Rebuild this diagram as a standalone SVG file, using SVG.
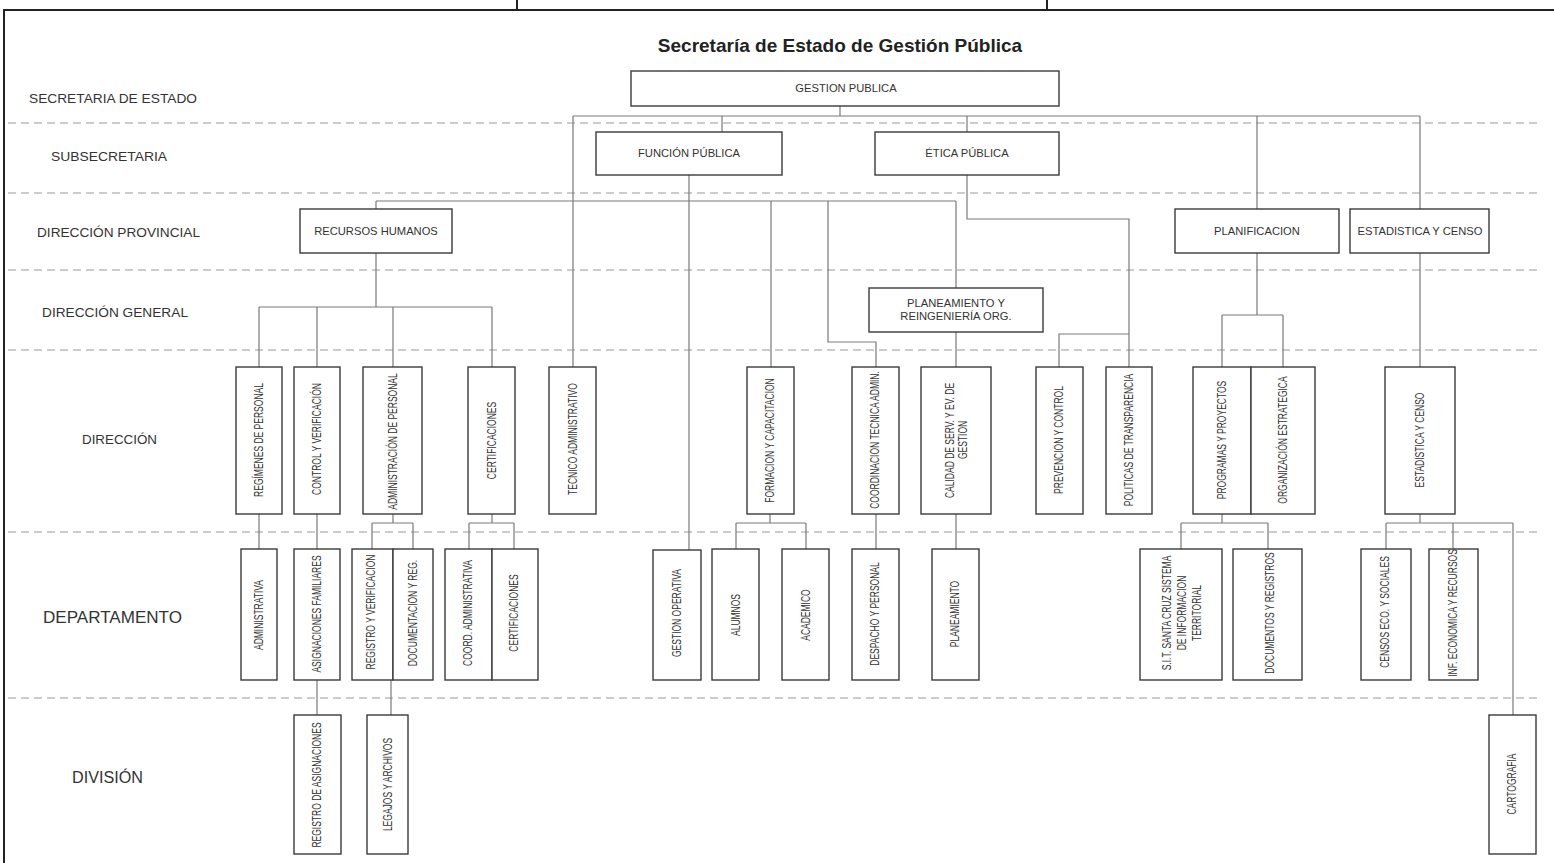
<svg xmlns="http://www.w3.org/2000/svg" width="1554" height="863" viewBox="0 0 1554 863">
<style>
.frame{fill:none;stroke:#222;stroke-width:2}
.band{fill:none;stroke:#9a9a9a;stroke-width:1.2;stroke-dasharray:8,5}
.box{fill:#fff;stroke:#3a3a3a;stroke-width:1.4}
.con{fill:none;stroke:#7a7a7a;stroke-width:1.2}
.title{font-family:"Liberation Sans",Arial,sans-serif;font-weight:bold;font-size:19px;fill:#222;text-anchor:middle}
.row{font-family:"Liberation Sans",Arial,sans-serif;font-size:13.5px;fill:#333}
.rowb{font-family:"Liberation Sans",Arial,sans-serif;font-size:16.3px;fill:#333}
.h{font-family:"Liberation Sans",Arial,sans-serif;font-size:11.2px;fill:#333;text-anchor:middle}
.v{font-family:"Liberation Sans",Arial,sans-serif;font-size:12px;fill:#333;text-anchor:middle}
</style>
<rect width="1554" height="863" fill="#fff"/>
<g id="frame">
<path class="frame" d="M3,10 H1554 M4,10 V863 M517,0 V10 M1047,0 V10"/>
</g>
<g id="bands">
<path class="band" d="M8,123 H1538 M8,193 H1538 M8,270 H1538 M8,350 H1538 M8,532 H1538 M8,698 H1538"/>
</g>
<g id="row-labels">
<text class="row" x="29" y="103" textLength="168" lengthAdjust="spacingAndGlyphs">SECRETARIA DE ESTADO</text>
<text class="row" x="51" y="161" textLength="116" lengthAdjust="spacingAndGlyphs">SUBSECRETARIA</text>
<text class="row" x="37" y="237" textLength="163" lengthAdjust="spacingAndGlyphs">DIRECCIÓN PROVINCIAL</text>
<text class="row" x="42" y="317" textLength="146" lengthAdjust="spacingAndGlyphs">DIRECCIÓN GENERAL</text>
<text class="row" x="82" y="444" textLength="75" lengthAdjust="spacingAndGlyphs">DIRECCIÓN</text>
<text class="rowb" x="43" y="623" textLength="139" lengthAdjust="spacingAndGlyphs">DEPARTAMENTO</text>
<text class="rowb" x="72" y="783" textLength="71" lengthAdjust="spacingAndGlyphs">DIVISIÓN</text>
</g>
<text class="title" x="840" y="52">Secretaría de Estado de Gestión Pública</text>
<g id="connectors">
<path class="con" d="M840,106 V116 M573,116 H1420 M722,116 V132 M967,116 V132 M573,116 V367 M1257,116 V209 M1420,116 V209"/>
<path class="con" d="M689,175 V550 M376,201 H956 M376,201 V209 M771,201 V367 M828,201 V342 H876 V367 M956,201 V288"/>
<path class="con" d="M967,175 V219 H1129 V367 M1129,334 H1059 V367 M956,332 V367"/>
<path class="con" d="M376,253 V307 M259,307 H492 M259,307 V367 M317,307 V367 M393,307 V367 M492,307 V367"/>
<path class="con" d="M259,514 V549 M317,514 V549 M393,514 V523 M372,523 H413 M372,523 V549 M413,523 V549 M391,680 V715 M317,680 V715"/>
<path class="con" d="M492,514 V523 M469,523 H514 M469,523 V549 M514,523 V549"/>
<path class="con" d="M770,514 V523 M736,523 H806 M736,523 V549 M806,523 V549 M876,514 V549 M956,514 V549"/>
<path class="con" d="M1257,253 V315 M1222,315 H1283 M1222,315 V367 M1283,315 V367"/>
<path class="con" d="M1222,514 V523 M1181,523 H1268 M1181,523 V549 M1268,523 V549"/>
<path class="con" d="M1420,253 V367 M1420,514 V523 M1386,523 H1513 M1386,523 V549 M1453,523 V549 M1513,523 V715"/>
</g>
<g id="gestion-publica"><rect class="box" x="631" y="71" width="428" height="35"/><text class="h" x="846" y="92">GESTION PUBLICA</text></g>
<g id="funcion-publica"><rect class="box" x="596" y="132" width="186" height="43"/><text class="h" x="689" y="157">FUNCIÓN PÚBLICA</text></g>
<g id="etica-publica"><rect class="box" x="875" y="132" width="184" height="43"/><text class="h" x="967" y="157">ÉTICA PÚBLICA</text></g>
<g id="recursos-humanos"><rect class="box" x="300" y="209" width="152" height="44"/><text class="h" x="376" y="235">RECURSOS HUMANOS</text></g>
<g id="planificacion"><rect class="box" x="1175" y="209" width="164" height="44"/><text class="h" x="1257" y="235">PLANIFICACION</text></g>
<g id="estadistica-censo-prov"><rect class="box" x="1350" y="209" width="139" height="44"/><text class="h" x="1420" y="235">ESTADISTICA Y CENSO</text></g>
<g id="planeamiento-reingenieria"><rect class="box" x="869" y="288" width="174" height="44"/><text class="h" x="956" y="307">PLANEAMIENTO Y</text><text class="h" x="956" y="320">REINGENIERÍA ORG.</text></g>

<g id="regimenes-personal"><rect class="box" x="236" y="367" width="46" height="147"/><text class="v" transform="translate(263.3,440) rotate(-90) scale(0.709,1)">REGÍMENES DE PERSONAL</text></g>
<g id="control-verificacion"><rect class="box" x="294" y="367" width="46" height="147"/><text class="v" transform="translate(321.3,439) rotate(-90) scale(0.709,1)">CONTROL Y VERIFICACIÓN</text></g>
<g id="administracion-personal"><rect class="box" x="363" y="367" width="59" height="147"/><text class="v" transform="translate(397.3,441.5) rotate(-90) scale(0.709,1)">ADMINISTRACIÓN DE PERSONAL</text></g>
<g id="certificaciones-dir"><rect class="box" x="468" y="367" width="47" height="147"/><text class="v" transform="translate(496.3,440.5) rotate(-90) scale(0.709,1)">CERTIFICACIONES</text></g>
<g id="tecnico-administrativo"><rect class="box" x="549" y="367" width="47" height="147"/><text class="v" transform="translate(577.3,439) rotate(-90) scale(0.709,1)">TECNICO ADMINISTRATIVO</text></g>
<g id="formacion-capacitacion"><rect class="box" x="747" y="367" width="47" height="147"/><text class="v" transform="translate(774.3,440.5) rotate(-90) scale(0.709,1)">FORMACION Y CAPACITACION</text></g>
<g id="coordinacion-tecnica"><rect class="box" x="852" y="367" width="47" height="147"/><text class="v" transform="translate(879.3,440) rotate(-90) scale(0.709,1)">COORDINACION TECNICA ADMIN.</text></g>
<g id="calidad-servicio"><rect class="box" x="921" y="367" width="70" height="147"/><text class="v" transform="translate(954.3,440.5) rotate(-90) scale(0.709,1)">CALIDAD DE SERV. Y EV. DE</text><text class="v" transform="translate(967.3,440) rotate(-90) scale(0.709,1)">GESTION</text></g>
<g id="prevencion-control"><rect class="box" x="1036" y="367" width="47" height="147"/><text class="v" transform="translate(1063.3,440) rotate(-90) scale(0.709,1)">PREVENCION Y CONTROL</text></g>
<g id="politicas-transparencia"><rect class="box" x="1106" y="367" width="46" height="147"/><text class="v" transform="translate(1133.3,440) rotate(-90) scale(0.709,1)">POLITICAS DE TRANSPARENCIA</text></g>
<g id="programas-proyectos"><rect class="box" x="1193" y="367" width="58" height="147"/><text class="v" transform="translate(1226.3,440) rotate(-90) scale(0.709,1)">PROGRAMAS Y PROYECTOS</text></g>
<g id="organizacion-estrategica"><rect class="box" x="1251" y="367" width="64" height="147"/><text class="v" transform="translate(1287.3,440) rotate(-90) scale(0.709,1)">ORGANIZACIÓN ESTRATEGICA</text></g>
<g id="estadistica-censo-dir"><rect class="box" x="1385" y="367" width="70" height="147"/><text class="v" transform="translate(1424.3,440) rotate(-90) scale(0.709,1)">ESTADISTICA Y CENSO</text></g>

<g id="administrativa"><rect class="box" x="241" y="549" width="36" height="131"/><text class="v" transform="translate(263.3,615) rotate(-90) scale(0.709,1)">ADMINISTRATIVA</text></g>
<g id="asignaciones-familiares"><rect class="box" x="294" y="549" width="46" height="131"/><text class="v" transform="translate(321.3,614) rotate(-90) scale(0.709,1)">ASIGNACIONES FAMILIARES</text></g>
<g id="registro-verificacion"><rect class="box" x="352" y="549" width="41" height="131"/><text class="v" transform="translate(375.3,612) rotate(-90) scale(0.709,1)">REGISTRO Y VERIFICACION</text></g>
<g id="documentacion-reg"><rect class="box" x="393" y="549" width="40" height="131"/><text class="v" transform="translate(417.3,613) rotate(-90) scale(0.709,1)">DOCUMENTACION Y REG.</text></g>
<g id="coord-administrativa"><rect class="box" x="445" y="549" width="47" height="131"/><text class="v" transform="translate(472.3,613) rotate(-90) scale(0.709,1)">COORD. ADMINISTRATIVA</text></g>
<g id="certificaciones-dep"><rect class="box" x="492" y="549" width="46" height="131"/><text class="v" transform="translate(518.3,613) rotate(-90) scale(0.709,1)">CERTIFICACIONES</text></g>
<g id="gestion-operativa"><rect class="box" x="653" y="550" width="48" height="130"/><text class="v" transform="translate(681.3,613) rotate(-90) scale(0.709,1)">GESTION OPERATIVA</text></g>
<g id="alumnos"><rect class="box" x="712" y="549" width="47" height="131"/><text class="v" transform="translate(740.3,615) rotate(-90) scale(0.709,1)">ALUMNOS</text></g>
<g id="academico"><rect class="box" x="782" y="549" width="47" height="131"/><text class="v" transform="translate(810.3,615) rotate(-90) scale(0.709,1)">ACADEMICO</text></g>
<g id="despacho-personal"><rect class="box" x="852" y="549" width="47" height="131"/><text class="v" transform="translate(879.3,614) rotate(-90) scale(0.709,1)">DESPACHO Y PERSONAL</text></g>
<g id="planeamiento"><rect class="box" x="932" y="549" width="47" height="131"/><text class="v" transform="translate(959.3,614) rotate(-90) scale(0.709,1)">PLANEAMIENTO</text></g>
<g id="sit-santa-cruz"><rect class="box" x="1140" y="549" width="82" height="131"/><text class="v" transform="translate(1171.3,613) rotate(-90) scale(0.709,1)">S.I.T. SANTA CRUZ SISTEMA</text><text class="v" transform="translate(1186.3,613) rotate(-90) scale(0.709,1)">DE INFORMACION</text><text class="v" transform="translate(1201.3,613) rotate(-90) scale(0.709,1)">TERRITORIAL</text></g>
<g id="documentos-registros"><rect class="box" x="1233" y="549" width="69" height="131"/><text class="v" transform="translate(1274.3,613) rotate(-90) scale(0.709,1)">DOCUMENTOS Y REGISTROS</text></g>
<g id="censos"><rect class="box" x="1361" y="549" width="50" height="131"/><text class="v" transform="translate(1389.3,612) rotate(-90) scale(0.709,1)">CENSOS ECO. Y SOCIALES</text></g>
<g id="inf-economica"><rect class="box" x="1429" y="549" width="49" height="131"/><text class="v" transform="translate(1457.3,613) rotate(-90) scale(0.709,1)">INF. ECONOMICA Y RECURSOS</text></g>

<g id="registro-asignaciones"><rect class="box" x="294" y="715" width="47" height="139"/><text class="v" transform="translate(321.3,785) rotate(-90) scale(0.709,1)">REGISTRO DE ASIGNACIONES</text></g>
<g id="legajos-archivos"><rect class="box" x="367" y="715" width="41" height="139"/><text class="v" transform="translate(392.3,784.5) rotate(-90) scale(0.709,1)">LEGAJOS Y ARCHIVOS</text></g>
<g id="cartografia"><rect class="box" x="1489" y="715" width="47" height="139"/><text class="v" transform="translate(1516.3,784) rotate(-90) scale(0.709,1)">CARTOGRAFIA</text></g>
</svg>
